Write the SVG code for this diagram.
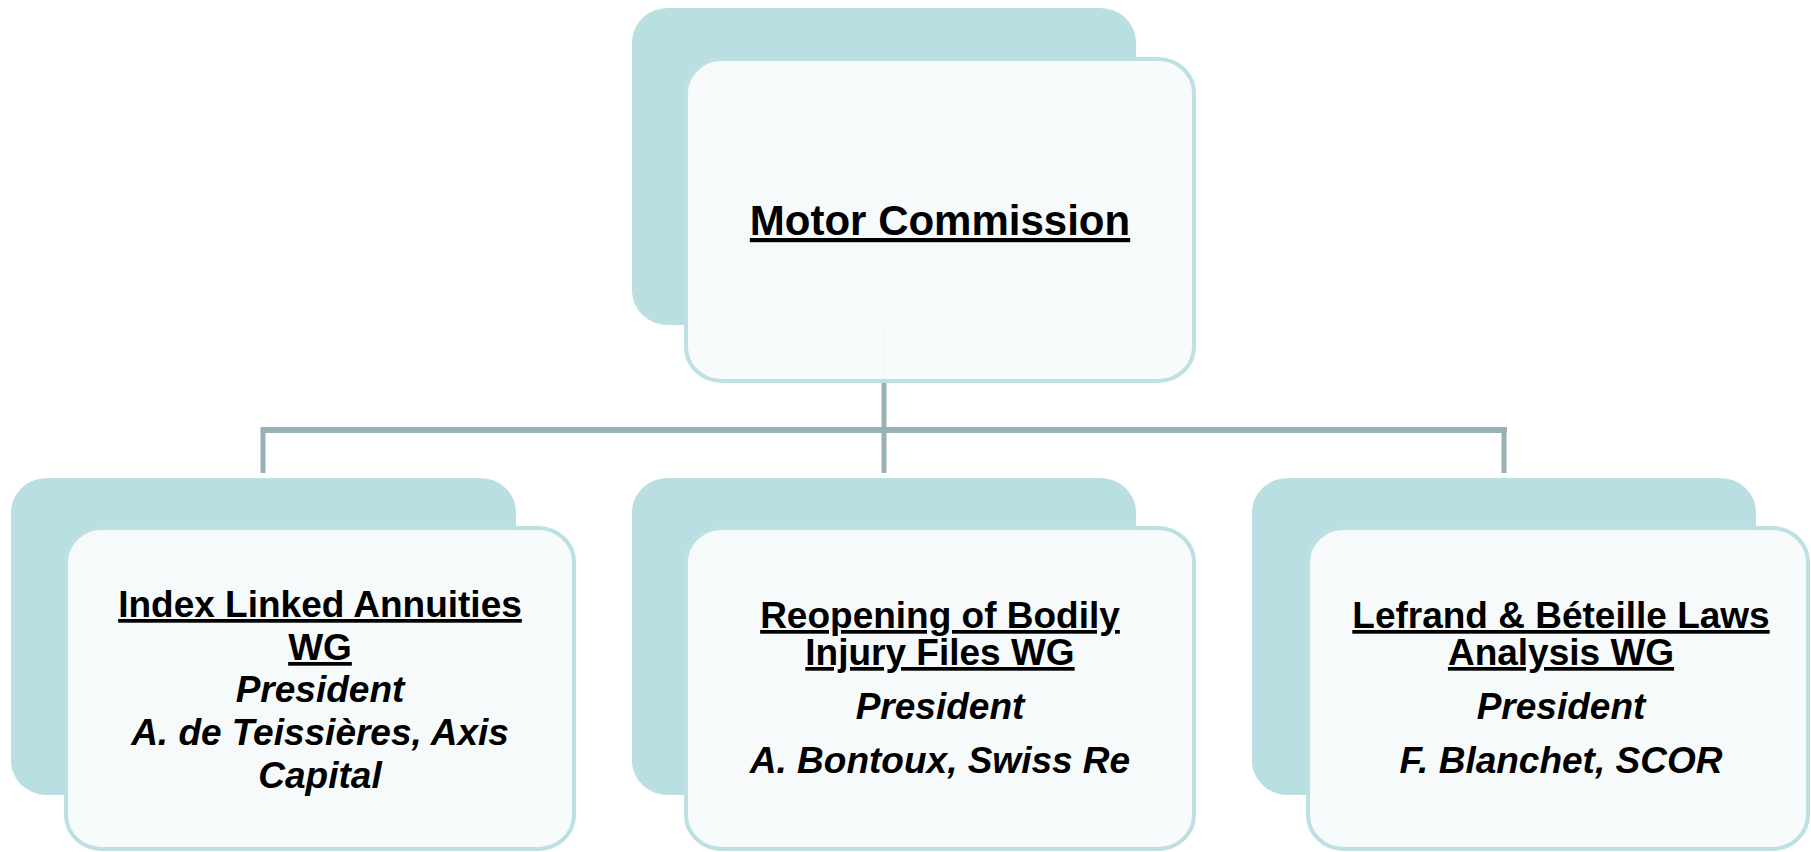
<svg xmlns="http://www.w3.org/2000/svg" width="1811" height="852" viewBox="0 0 1811 852">
<style>
.back{fill:#badfe2;}
.front{fill:#f8fbfc;fill-opacity:0.97;stroke:#bde0e3;stroke-width:4;}
.conn{stroke:#97b1b5;fill:none;}
text{font-family:"Liberation Sans",Arial,sans-serif;font-weight:bold;fill:#000;text-anchor:middle;}
.t{font-size:37px;text-decoration:underline;}
.top{font-size:42px;text-decoration:underline;}
.i{font-size:37px;font-style:italic;}
</style>
<rect width="1811" height="852" fill="#ffffff"/>
<g id="connectors">
<line class="conn" x1="884" y1="328" x2="884" y2="428" stroke-width="5"/>
<line class="conn" x1="261" y1="429.5" x2="1507" y2="429.5" stroke-width="5" stroke="#93aeb2"/>
<line class="conn" x1="261" y1="432" x2="1507" y2="432" stroke-width="2" stroke="#a9c3c5"/>
<line class="conn" x1="263" y1="427" x2="263" y2="473" stroke-width="5"/>
<line class="conn" x1="884" y1="427" x2="884" y2="473" stroke-width="5"/>
<line class="conn" x1="1504" y1="427" x2="1504" y2="473" stroke-width="5"/>
</g>
<g id="motor-commission">
<rect class="back" x="632" y="8" width="504" height="317" rx="36" ry="34"/>
<rect class="front" x="686" y="59" width="508" height="322" rx="36" ry="34"/>
<text class="top" x="940" y="235">Motor Commission</text>
</g>
<g id="index-linked">
<rect class="back" x="11" y="478" width="505" height="317" rx="36" ry="34"/>
<rect class="front" x="66" y="528" width="508" height="321" rx="36" ry="34"/>
<text class="t" x="320" y="617">Index Linked Annuities</text>
<text class="t" x="320" y="660">WG</text>
<text class="i" x="320" y="702">President</text>
<text class="i" x="320" y="745">A. de Teissières, Axis</text>
<text class="i" x="320" y="788">Capital</text>
</g>
<g id="reopening">
<rect class="back" x="632" y="478" width="504" height="317" rx="36" ry="34"/>
<rect class="front" x="686" y="528" width="508" height="321" rx="36" ry="34"/>
<text class="t" x="940" y="628">Reopening of Bodily</text>
<text class="t" x="940" y="665">Injury Files WG</text>
<text class="i" x="940" y="719">President</text>
<text class="i" x="940" y="773">A. Bontoux, Swiss Re</text>
</g>
<g id="lefrand">
<rect class="back" x="1252" y="478" width="504" height="317" rx="36" ry="34"/>
<rect class="front" x="1308" y="528" width="500" height="321" rx="36" ry="34"/>
<text class="t" x="1561" y="628">Lefrand &amp; Béteille Laws</text>
<text class="t" x="1561" y="665">Analysis WG</text>
<text class="i" x="1561" y="719">President</text>
<text class="i" x="1561" y="773">F. Blanchet, SCOR</text>
</g>
</svg>
